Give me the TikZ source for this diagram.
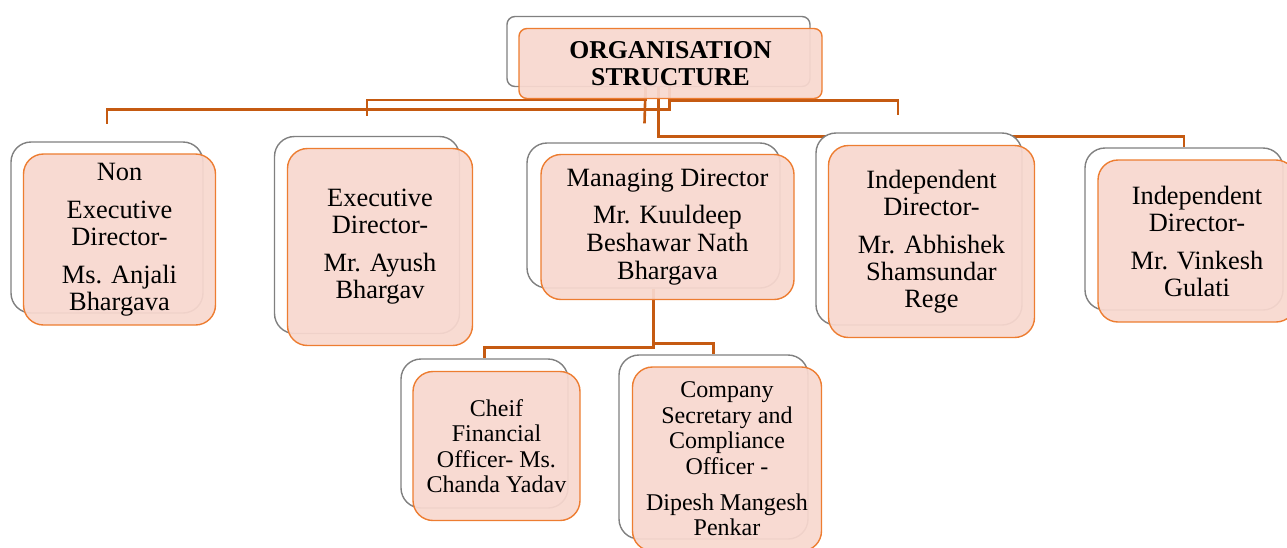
\documentclass[tikz,border=0pt]{standalone}
\usepackage{fontspec}
\setmainfont{Liberation Serif}
\usepackage{xcolor}
\usepackage{tikz}
\usetikzlibrary{calc}
\usetikzlibrary{backgrounds}

\definecolor{linkbrown}{RGB}{197,90,17}
\definecolor{boxorange}{RGB}{237,125,49}
\definecolor{boxpink}{RGB}{248,216,207}
\definecolor{boxgray}{RGB}{128,128,128}

\newcommand{\bigtext}{\fontsize{13.2pt}{13.5pt}\selectfont}
\newcommand{\smalltext}{\fontsize{12pt}{12.7pt}\selectfont}

\begin{document}
\begin{tikzpicture}[x=0.5pt, y=-0.5pt,
  link/.style={draw=linkbrown, line width=1.3pt},
  boxsize/.style 2 args={minimum width=#1*0.5pt, minimum height=#2*0.5pt, inner sep=0pt},
  back/.style={draw=boxgray, fill=white, line width=0.7pt, rounded corners=10pt},
  front/.style={draw=boxorange, fill=boxpink, fill opacity=0.93, text opacity=1,
                line width=0.7pt, rounded corners=10pt, align=center, font=\bigtext},
  lower/.style={font=\smalltext}]

  % Page size
  \useasboundingbox (0,0) rectangle (1287,547);

  % Title
  \node[back, boxsize={303}{70}, rounded corners=4pt] (root-b) at (658.5,51.5) {};
  \node[front, boxsize={303}{70}, rounded corners=4pt,
        font=\fontsize{12.85pt}{13.5pt}\selectfont\bfseries] (root) at (670.5,63.5)
    {ORGANISATION\\STRUCTURE};

  % First row
  \node[back, boxsize={192}{171}] (ned-b) at (107,227.5) {};
  \node[front, boxsize={192}{171}] (ned) at (119.5,239.5)
    {Non\\[5.5pt] Executive\\ Director-\\[5.5pt] Ms. Anjali\\ Bhargava};

  \node[back, boxsize={185}{197}] (ed-b) at (367,235) {};
  \node[front, boxsize={185}{197}] (ed) at (380,247)
    {Executive\\ Director-\\[5.5pt] Mr. Ayush\\ Bhargav};

  \node[back, boxsize={253}{145}] (md-b) at (653.5,215.5) {};
  \node[front, boxsize={253}{145}] (md) at (667.5,227)
    {Managing Director\\[5pt] Mr. Kuuldeep\\[0.5pt] Beshawar Nath\\[0.5pt] Bhargava};

  \node[back, boxsize={206}{192}] (id-b) at (919,229) {};
  \node[front, boxsize={206}{192}] (id) at (931.5,241.5)
    {Independent\\ Director-\\[5.5pt] Mr. Abhishek\\ Shamsundar\\ Rege};

  \node[back, boxsize={198}{162}] (iv-b) at (1184,229) {};
  \node[front, boxsize={198}{162}] (iv) at (1197,241)
    {Independent\\ Director-\\[5.5pt] Mr. Vinkesh\\ Gulati};

  % Second row
  \node[back, boxsize={167}{149}] (cfo-b) at (484.5,433.5) {};
  \node[front, lower, boxsize={167}{149}] (cfo) at (496.5,446)
    {Cheif\\ Financial\\ Officer- Ms.\\ Chanda Yadav};

  \node[back, boxsize={189}{184}] (cs-b) at (713.5,447) {};
  \node[front, lower, boxsize={189}{184}] (cs) at (727,459)
    {Company\\ Secretary and\\ Compliance\\ Officer -\\[5.5pt] Dipesh Mangesh\\ Penkar};

  % Connectors
  \begin{scope}[on background layer]
    \draw[link] ($(root-b.south)+(11,0)$) |- ($(ned-b.north)+(0,-32)$) -- ($(ned-b.north)+(0,-17)$);
    \draw[link] ($(root-b.south)+(-13,0)$) |- ($(ed-b.north)+(0,-36)$) -- ($(ed-b.north)+(0,-20)$);
    \draw[link] ($(root-b.south)+(-13,0)$) -- ($(md-b.north)+(-9,-19)$);
    \draw[link] ($(root-b.south)+(11,0)$) |- ($(id-b.north)+(-21,-32)$) -- ($(id-b.north)+(-21,-17)$);
    \draw[link] (root-b.south) |- ($(iv-b.north)+(0,-11)$) -- (iv-b.north);
    \draw[link] (md-b.south) |- ($(cfo-b.north)+(0,-11)$) -- (cfo-b.north);
    \draw[link] (md-b.south) |- ($(cs-b.north)+(0,-11)$) -- (cs-b.north);
  \end{scope}
\end{tikzpicture}
\end{document}
